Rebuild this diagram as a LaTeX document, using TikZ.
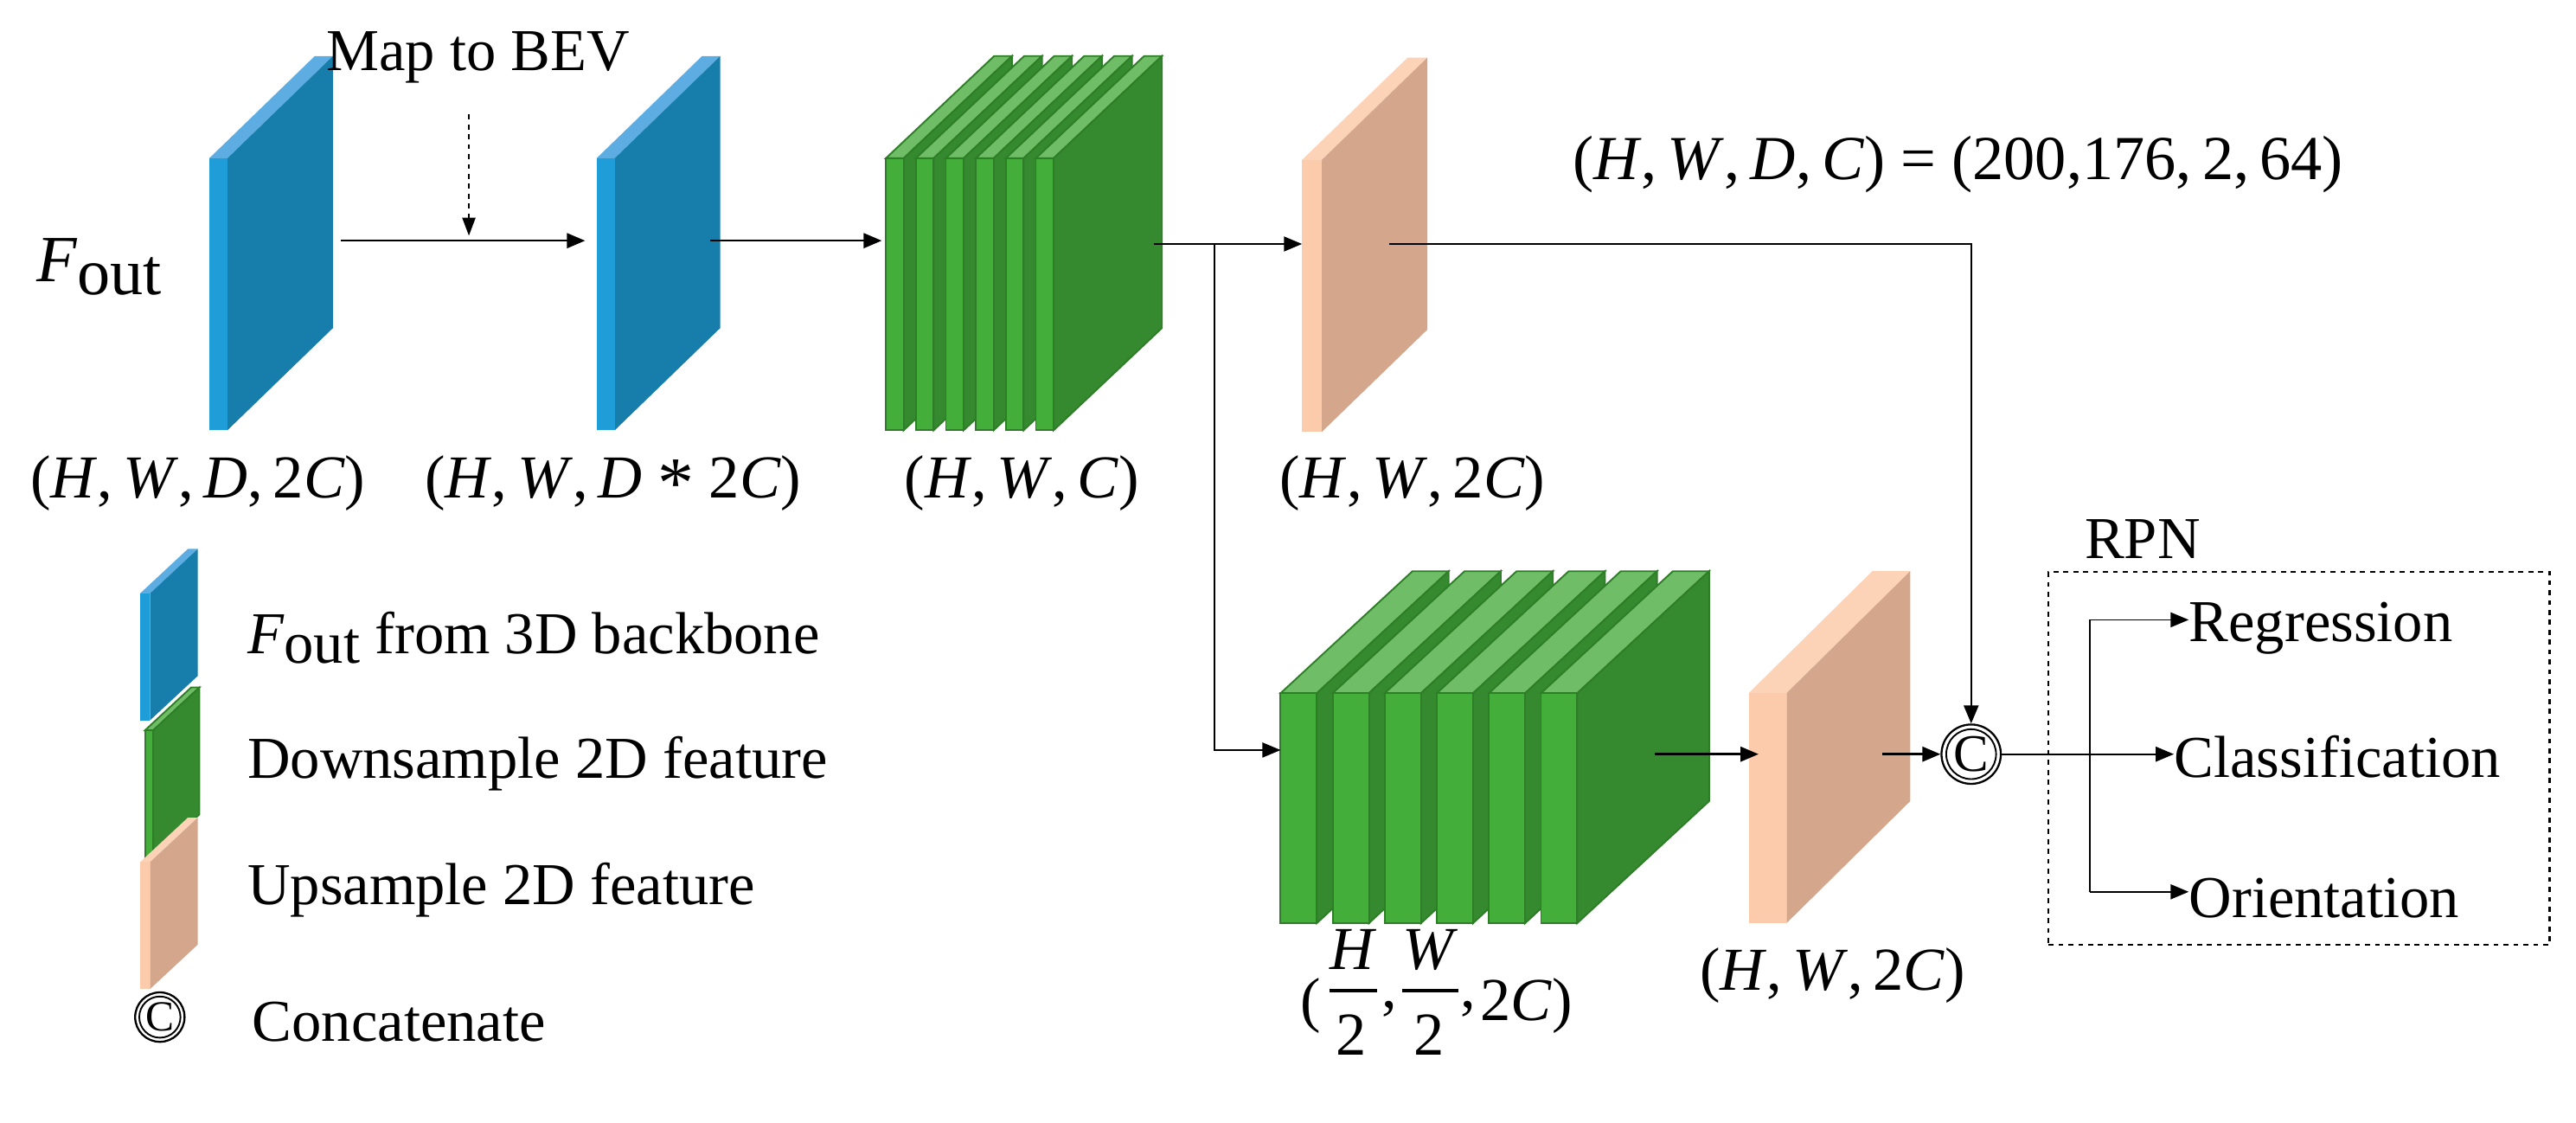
\documentclass[tikz,border=0pt]{standalone}
\usepackage{fontspec}
\setmainfont{LiberationSerif}[Extension=.ttf,UprightFont=*-Regular,ItalicFont=*-Italic,BoldFont=*-Bold]
\newfontfamily\tms{LiberationSerif}[Extension=.ttf,UprightFont=*-Regular,ItalicFont=*-Italic,BoldFont=*-Bold]
\usetikzlibrary{arrows.meta}
\definecolor{bF}{HTML}{1F9DD9}\definecolor{bD}{HTML}{177EAC}\definecolor{bT}{HTML}{5DADE2}
\definecolor{gF}{HTML}{43AE3A}\definecolor{gD}{HTML}{358A2F}\definecolor{gT}{HTML}{70BD67}\definecolor{gE}{HTML}{2E7D27}
\definecolor{pF}{HTML}{FCCBAB}\definecolor{pD}{HTML}{D4A68C}\definecolor{pT}{HTML}{FDD3B8}
\newcommand{\myslab}[9]{%
  \fill[#9] (#1,#2) -- (#1+#4,#2-#5) -- (#1+#3+#4,#2-#5) -- (#1+#3,#2) -- cycle;
  \fill[#8] (#1+#3,#2) -- (#1+#3+#4,#2-#5) -- (#1+#3+#4,#2+#6-#5) -- (#1+#3,#2+#6) -- cycle;
  \fill[#7] (#1,#2) rectangle (#1+#3,#2+#6);}
\newcommand{\mygslab}[6]{%
  \filldraw[gT,draw=gE,line width=1pt] (#1,#2) -- (#1+#4,#2-#5) -- (#1+#3+#4,#2-#5) -- (#1+#3,#2) -- cycle;
  \filldraw[gD,draw=gE,line width=1pt] (#1+#3,#2) -- (#1+#3+#4,#2-#5) -- (#1+#3+#4,#2+#6-#5) -- (#1+#3,#2+#6) -- cycle;
  \filldraw[gF,draw=gE,line width=1pt] (#1,#2) rectangle (#1+#3,#2+#6);}
\newcommand{\I}[1]{\textit{#1}}
\newcommand{\cm}{,\,}
\tikzset{
  txt/.style={font=\tms\fontsize{36}{40}\selectfont, inner sep=0pt},
  mth/.style={font=\tms\fontsize{37}{42}\selectfont, inner sep=0pt},
  arr/.style={line width=1.3pt,-{Triangle[length=11pt,width=9pt]}},
  tarr/.style={line width=0.9pt,-{Triangle[length=11pt,width=9pt]}},
  cout/.style={circle,draw,line width=1.2pt,minimum size=36pt,inner sep=0pt},
  cin/.style={circle,draw,line width=1pt,minimum size=30pt,inner sep=0pt,font=\tms\fontsize{32}{32}\selectfont},
}
\begin{document}
\begin{tikzpicture}[x=1pt,y=-1pt]
\useasboundingbox (0,0) rectangle (1563,681);
\myslab{127}{96}{11}{64}{62}{165}{bF}{bD}{bT}
\myslab{362}{96}{11}{64}{62}{165}{bF}{bD}{bT}
\foreach \i in {0,...,5}{\mygslab{537.5+18.2*\i}{96}{10.8}{65.7}{62}{165}}
\myslab{790}{97}{12}{64}{62}{165}{pF}{pD}{pT}
\foreach \i in {0,...,5}{\mygslab{777+31.6*\i}{420.5}{22}{80}{74}{139.5}}
\myslab{1061}{420.5}{23}{75}{74}{139.5}{pF}{pD}{pT}
\coordinate (s1r) at (207,146); \coordinate (s2l) at (355,146);
\coordinate (s2r) at (431,146); \coordinate (g1l) at (535,146);
\coordinate (g1r) at (700,148); \coordinate (p1l) at (790,148);
\coordinate (br) at (737,148); \coordinate (brd) at (737,455); \coordinate (g2l) at (777,455);
\coordinate (p1r) at (843,148); \coordinate (turn) at (1196,148);
\coordinate (g2r) at (1004,457.5); \coordinate (p2l) at (1067,457.5);
\coordinate (p2r) at (1142,457.5);
\coordinate (dsh) at (284.5,69.5); \coordinate (dsh2) at (284.5,143);
\node[cout] (cc) at (1196,457.5) {};
\node[cin] at (cc) {C};
\node[txt] (map) at (290,35) {Map to BEV};
\node[txt,font=\tms\fontsize{40}{44}\selectfont] (fo) at (60,162) {\I{F}\raisebox{-8pt}{out}};
\node[mth] (l1) at (120,293) {(\I{H}\cm\I{W}\cm\I{D}\cm2\I{C})};
\node[mth] (l2) at (372,293) {(\I{H}\cm\I{W}\cm\I{D} \raisebox{-6pt}{\fontsize{44}{44}\selectfont*} 2\I{C})};
\node[mth] (l3) at (620,293) {(\I{H}\cm\I{W}\cm\I{C})};
\node[mth] (l4) at (857,293) {(\I{H}\cm\I{W}\cm2\I{C})};
\node[mth,font=\tms\fontsize{38}{42}\selectfont] (l5) at (1188,100) {(\I{H}\cm\I{W}\cm\I{D}\cm\I{C}) = (200,176\cm2\cm64)};
% fraction label
\node[mth] (l6) at (795,610) {(};
\node[mth] (fh) at (821,576) {\I{H}};
\node[mth] (fw) at (868,576) {\I{W}};
\node[mth] (f2a) at (820,628) {2};
\node[mth] (f2b) at (867,628) {2};
\node[mth] (c1) at (843,612) {,};
\node[mth] (c2) at (891,612) {,};
\node[mth,anchor=west] (l6b) at (898,610) {2\I{C})};
\draw[line width=2.4pt] (fh.south west |- 0,601) -- (fh.south east |- 0,601);
\draw[line width=2.4pt] (fw.south west |- 0,601) -- (fw.south east |- 0,601);
\node[mth] (l7) at (1112,592) {(\I{H}\cm\I{W}\cm2\I{C})};
\draw[arr] (s1r) -- (s2l);
\draw[arr] (s2r) -- (g1l);
\draw[line width=1pt,dashed,-{Triangle[length=11pt,width=8pt]}] (dsh) -- (dsh2);
\draw[tarr] (g1r) -- (p1l);
\draw[tarr] (br) -- (brd) -- (g2l);
\draw[tarr] (p1r) -- (turn) -- (cc.north);
\draw[arr] (g2r) -- (p2l);
\draw[arr] (p2r) -- (cc.west);
\node[draw,dashed,line width=1.2pt,minimum width=304pt,minimum height=226pt,inner sep=0pt] (rpn) at (1395,460) {};
\node[txt] (rpnl) at (1300,327) {RPN};
\node[txt,anchor=west] (reg) at (1328,381) {Regression};
\node[txt,anchor=west] (cls) at (1319,459) {Classification};
\node[txt,anchor=west] (ori) at (1328,545) {Orientation};
\coordinate (v1) at (1268,376); \coordinate (v2) at (1268,541);
\draw[tarr] (cc.east) -- (cc.east -| cls.west);
\draw[tarr] (v1) -- (reg.west|-v1);
\draw[tarr] (v2) -- (ori.west|-v2);
\draw[line width=0.9pt] (v1) -- (v2);
\myslab{85}{360}{6}{29}{27}{77}{bF}{bD}{bT}
\mygslab{88}{443}{5}{28}{26}{77}
\myslab{85}{523}{6}{29}{27}{77}{pF}{pD}{pT}
\node[cout,minimum size=30pt] (lc) at (97,617) {};
\node[cin,minimum size=25pt,font=\tms\fontsize{26}{26}\selectfont] at (lc) {C};
\node[txt,anchor=west] (t1) at (150,387) {\I{F}\raisebox{-6pt}{out} from 3D backbone};
\node[txt,anchor=west] (t2) at (150,463) {Downsample 2D feature};
\node[txt,anchor=west] (t3) at (150,540) {Upsample 2D feature};
\node[txt,anchor=west] (t4) at (153,620) {Concatenate};
\end{tikzpicture}
\end{document}
